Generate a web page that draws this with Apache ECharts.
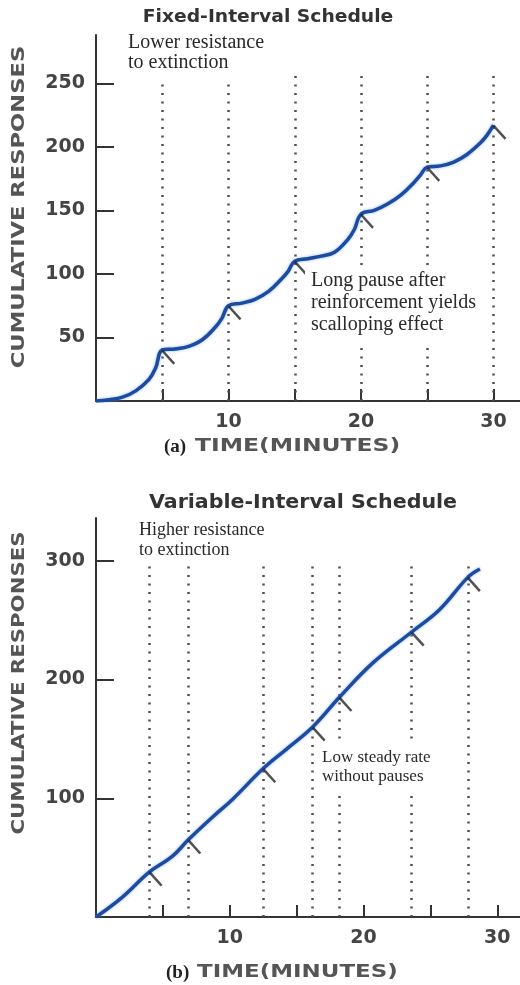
<!DOCTYPE html>
<html lang="en" style="height: 100%">
<head>
    <meta charset="utf-8">
</head>
<body style="height: 100%; margin: 0; background: #fff">
<div id="container" style="width: 520px; height: 985px"></div>

<script type="text/javascript" src="https://cdn.jsdelivr.net/npm/echarts@6.0.0/dist/echarts.min.js"></script>

<script type="text/javascript">
    // (a) fixed-interval schedule
    var fiMinutes = [0, 1, 2, 3, 4, 4.5, 5, 6, 7, 8, 9, 9.5, 10, 11, 12, 13, 14, 14.5, 15,
        16, 17, 18, 19, 19.5, 20, 21, 22, 23, 24, 24.5, 25, 26, 27, 28, 29, 29.5, 30];
    var fiResponses = [0, 1, 3, 8, 17, 26, 40, 41, 43, 48, 58, 65, 75, 77, 80, 86, 96, 102, 110,
        112, 114, 117, 127, 135, 147, 150, 155, 162, 172, 178, 184, 185, 188, 194, 203, 209, 217];
    // reinforcement points (hatch marks + dotted guides)
    var fiReinforced = [5, 10, 15, 20, 25, 30];
    var fiReinforcedAt = [40, 75, 110, 147, 184, 217];
    var fiGuideTop = 260;
    var fiYTicks = [50, 100, 150, 200, 250];

    // (b) variable-interval schedule
    var viMinutes = [0, 2, 4, 5.7, 6.9, 8.7, 10.2, 12.5, 14.2, 16.2, 18.2, 20.7, 23.6, 25.7, 27.8, 28.7];
    var viResponses = [0, 17, 38, 51, 65, 84, 99, 125, 141, 160, 185, 214, 240, 259, 286, 293];
    var viReinforced = [4, 6.9, 12.5, 16.2, 18.2, 23.6, 27.8];
    var viReinforcedAt = [38, 65, 125, 160, 185, 240, 286];
    var viGuideTop = 298;
    var viYTicks = [100, 200, 300];

    var xTicks = [5, 10, 15, 20, 25, 30];
    var xLabels = [10, 20, 30];

    var dom = document.getElementById('container');
    var myChart = echarts.init(dom, null, {renderer: 'canvas'});

    var axisColor = '#333';
    var curveColor = '#1d4b9f';
    var labelFont = {fontFamily: 'DejaVu Sans', fontSize: 19, fontWeight: 'bold', color: '#444'};

    function pairs(xs, ys) {
        return xs.map(function (x, i) { return [x, ys[i]]; });
    }
    function guides(times, top) {
        return times.map(function (t) { return [{coord: [t, 0]}, {coord: [t, top]}]; });
    }
    function xAxisOf(idx, max) {
        return {
            type: 'value', gridIndex: idx, min: 0, max: max,
            axisLine: {show: true, lineStyle: {color: axisColor, width: 2}},
            axisTick: {show: true, inside: true, length: 12, customValues: xTicks,
                lineStyle: {color: axisColor, width: 2}},
            axisLabel: Object.assign({customValues: xLabels, margin: 12}, labelFont),
            splitLine: {show: false}
        };
    }
    function yAxisOf(idx, max, ticks) {
        return {
            type: 'value', gridIndex: idx, min: 0, max: max,
            axisLine: {show: true, lineStyle: {color: axisColor, width: 2}},
            axisTick: {show: true, inside: true, length: 18, customValues: ticks,
                lineStyle: {color: axisColor, width: 2}},
            axisLabel: Object.assign({customValues: ticks, margin: 11}, labelFont),
            splitLine: {show: false}
        };
    }
    function curve(idx, xs, ys, times, top) {
        return {
            type: 'line', xAxisIndex: idx, yAxisIndex: idx,
            data: pairs(xs, ys), smooth: 0.4,
            showSymbol: false, z: 3,
            lineStyle: {color: curveColor, width: 3.5,
                shadowColor: 'rgba(90,150,235,0.7)', shadowBlur: 3},
            markLine: {
                silent: true, symbol: 'none', z: 1,
                label: {show: false},
                lineStyle: {color: '#4d4d4d', width: 2.5, type: [2, 6.5]},
                data: guides(times, top)
            }
        };
    }
    function hatches(idx, times, values) {
        return {
            type: 'scatter', xAxisIndex: idx, yAxisIndex: idx, z: 4,
            data: pairs(times, values),
            symbol: 'rect', symbolSize: [18, 2.5], symbolRotate: -48, symbolOffset: [6, 7],
            itemStyle: {color: '#262626'}
        };
    }
    function txt(x, y, text, style, extra) {
        var el = {type: 'text', x: x, y: y, z: 100, style: Object.assign({text: text}, style)};
        return Object.assign(el, extra || {});
    }

    var serif = 'Liberation Serif';
    var note = function (size, lh) {
        return {font: size + 'px "' + serif + '"', fill: '#2a2a2a', lineHeight: lh,
            backgroundColor: '#fff', padding: [3, 6, 6, 6]};
    };
    var centred = {align: 'center', verticalAlign: 'middle', textAlign: 'center', textVerticalAlign: 'middle'};
    var vname = Object.assign({font: 'bold 17px "DejaVu Sans"', fill: '#555'}, centred);
    var xname = {font: 'bold 17px "DejaVu Sans"', fill: '#555', verticalAlign: 'middle', textVerticalAlign: 'middle'};
    var tag = {font: 'bold 19px "' + serif + '"', fill: '#222', verticalAlign: 'middle', textVerticalAlign: 'middle'};

    var option = {
        animation: false,
        backgroundColor: '#fff',
        grid: [
            {left: 96, right: 0, top: 35, height: 366},
            {left: 96, right: 0, top: 518, height: 399}
        ],
        xAxis: [xAxisOf(0, 32), xAxisOf(1, 31.7)],
        yAxis: [yAxisOf(0, 288, fiYTicks), yAxisOf(1, 336, viYTicks)],
        series: [
            curve(0, fiMinutes, fiResponses, fiReinforced, fiGuideTop),
            hatches(0, fiReinforced, fiReinforcedAt),
            curve(1, viMinutes, viResponses, viReinforced, viGuideTop),
            hatches(1, viReinforced, viReinforcedAt)
        ],
        graphic: [
            txt(268, 17, 'Fixed-Interval Schedule', Object.assign({font: 'bold 18px "DejaVu Sans"', fill: '#333'}, centred), {scaleX: 1.04}),
            txt(303, 503, 'Variable-Interval Schedule', Object.assign({font: 'bold 20px "DejaVu Sans"', fill: '#333'}, centred), {scaleX: 1.03}),
            txt(122, 30, 'Lower resistance\nto extinction', note(20, 20)),
            txt(133, 517, 'Higher resistance\nto extinction', note(18, 20)),
            txt(305, 267, 'Long pause after\nreinforcement yields\nscalloping effect', note(20, 22)),
            txt(316, 745, 'Low steady rate\nwithout pauses', note(17, 19)),
            txt(20, 207, 'CUMULATIVE RESPONSES', vname, {rotation: Math.PI / 2, scaleX: 1.33}),
            txt(20, 683, 'CUMULATIVE RESPONSES', vname, {rotation: Math.PI / 2, scaleX: 1.25}),
            txt(164, 447, '(a)', tag),
            txt(195, 447, 'TIME(MINUTES)', xname, {scaleX: 1.38}),
            txt(166, 973, '(b)', tag),
            txt(197, 973, 'TIME(MINUTES)', xname, {scaleX: 1.35})
        ]
    };

    myChart.setOption(option);
    window.addEventListener('resize', myChart.resize);
</script>
</body>
</html>
